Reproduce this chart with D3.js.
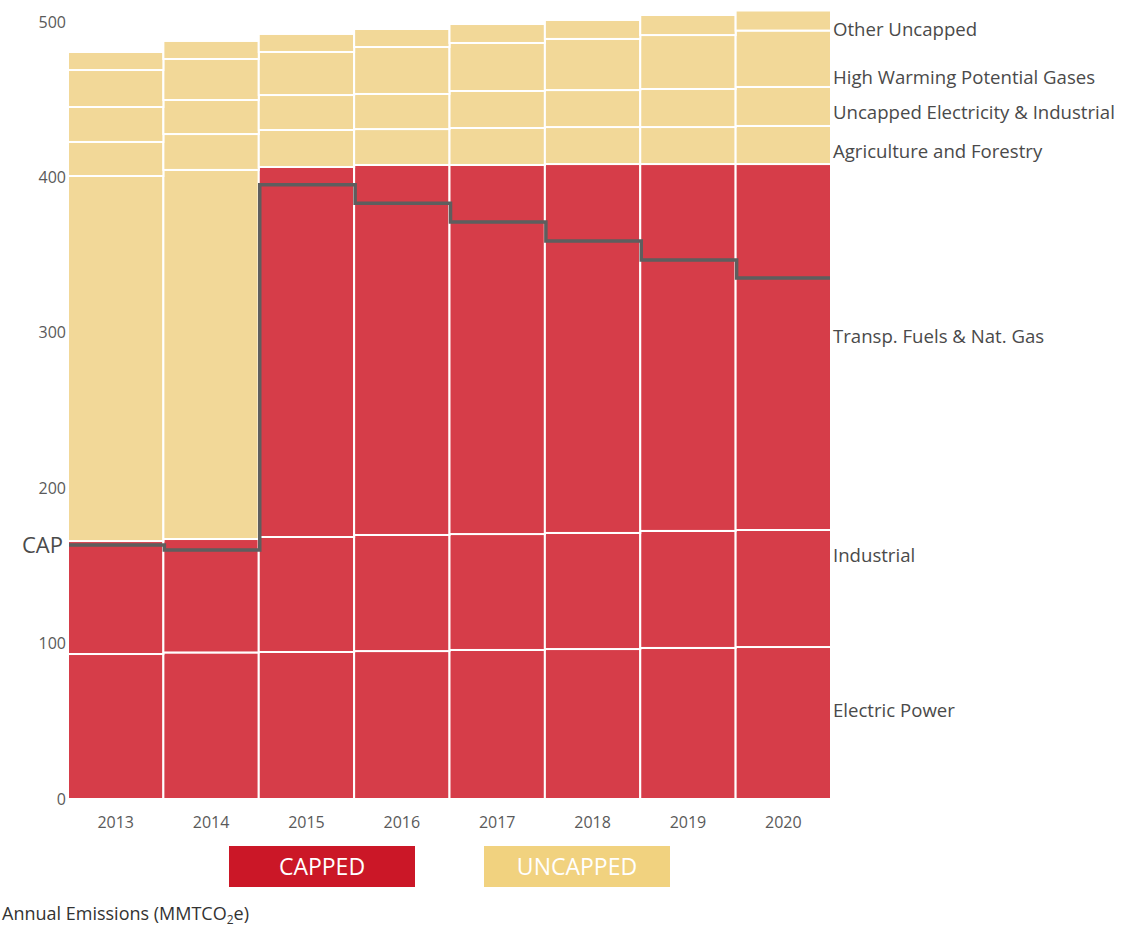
<!DOCTYPE html>
<html><head><meta charset="utf-8">
<script src="https://cdn.jsdelivr.net/npm/d3@7"></script>
<style>body{margin:0;background:#fff}svg{display:block}</style>
</head><body>
<svg id="chart" width="1138" height="929"></svg>
<script>
const years = ["2013","2014","2015","2016","2017","2018","2019","2020"];
const seriesNames = ["Electric Power","Industrial","Transp. Fuels & Nat. Gas","Agriculture and Forestry","Uncapped Electricity & Industrial","High Warming Potential Gases","Other Uncapped"];
const electricPower = [93.3, 94.3, 94.6, 95.2, 95.9, 96.5, 97.2, 97.8];
const industrial    = [72.7, 73.0, 74.0, 74.7, 74.6, 74.7, 75.3, 75.3];
const transpFuels   = [234.9, 237.5, 238.1, 238.1, 237.5, 237.4, 236.1, 235.5];
const agriculture   = [21.9, 23.1, 23.8, 23.1, 23.8, 23.8, 23.8, 24.5];
const uncappedElec  = [22.5, 21.9, 22.5, 22.6, 23.8, 23.8, 24.5, 25.1];
const hwpGases      = [23.8, 26.4, 27.7, 30.2, 30.9, 32.9, 34.7, 36.3];
const otherUncapped = [11.6, 11.6, 11.6, 11.6, 12.2, 12.2, 12.9, 12.9];
const capValues     = [163.4, 160.2, 395.3, 383.3, 371.3, 359.0, 346.8, 335.3];
const transpCappedFrom = "2015";
const yTicks = [0, 100, 200, 300, 400, 500];
const rightLabels = [
  {name:"Other Uncapped", y:30},
  {name:"High Warming Potential Gases", y:78},
  {name:"Uncapped Electricity & Industrial", y:113},
  {name:"Agriculture and Forestry", y:152},
  {name:"Transp. Fuels & Nat. Gas", y:337},
  {name:"Industrial", y:556},
  {name:"Electric Power", y:711}
];

const RED = "#d63d49", YEL = "#f2d898";
const font = "'Open Sans', Lato, sans-serif";
const svg = d3.select("#chart");

const x = d3.scaleBand().domain(years).range([68, 831]).padding(0);
const y = d3.scaleLinear().domain([0, 500]).range([799, 22]);

const seriesArr = [electricPower, industrial, transpFuels, agriculture, uncappedElec, hwpGases, otherUncapped];
const table = years.map((yr, i) => {
  const o = {year: yr};
  seriesNames.forEach((s, j) => o[s] = seriesArr[j][i]);
  return o;
});
const stacked = d3.stack().keys(seriesNames)(table);

function colorFor(key, yr) {
  if (key === "Electric Power" || key === "Industrial") return RED;
  if (key === "Transp. Fuels & Nat. Gas") return (+yr >= +transpCappedFrom) ? RED : YEL;
  return YEL;
}

const g = svg.append("g");
stacked.forEach(layer => {
  g.selectAll(null).data(layer).enter().append("rect")
    .attr("x", d => x(d.data.year))
    .attr("width", x.bandwidth())
    .attr("y", d => y(d[1]))
    .attr("height", d => y(d[0]) - y(d[1]))
    .attr("fill", d => colorFor(layer.key, d.data.year))
    .attr("stroke", "#fff")
    .attr("stroke-width", 2);
});

// cap step line
const capPts = years.map((yr, i) => [x(yr) + 1, y(capValues[i])]);
capPts.push([x.range()[1] - 1, y(capValues[capValues.length - 1])]);
svg.append("path")
  .attr("d", d3.line().curve(d3.curveStepAfter)(capPts))
  .attr("fill", "none").attr("stroke", "#5e5e5e").attr("stroke-width", 3.5);

svg.append("text").attr("x", 63).attr("y", y(capValues[0]) + 8)
  .attr("text-anchor", "end").attr("font-family", font).attr("font-size", 22)
  .attr("fill", "#4a4a4a").text("CAP");

// y axis labels
const yAxis = d3.axisLeft(y).tickValues(yTicks).tickSize(0).tickPadding(0);
const ya = svg.append("g").attr("transform", "translate(66,0)").call(yAxis);
ya.select(".domain").remove();
ya.selectAll("text").attr("font-family", font).attr("font-size", 16).attr("fill", "#5a5a5a");

// x axis labels
const xAxis = d3.axisBottom(x).tickSize(0).tickPadding(0);
const xa = svg.append("g").attr("transform", "translate(0,817)").call(xAxis);
xa.select(".domain").remove();
xa.selectAll("text").attr("font-family", font).attr("font-size", 16).attr("fill", "#5a5a5a");

// right labels
svg.selectAll(".rl").data(rightLabels).enter().append("text")
  .attr("x", 833).attr("y", d => d.y + 6)
  .attr("font-family", font).attr("font-size", 18.6).attr("fill", "#4a4a4a")
  .text(d => d.name);

// legend
const legend = [{t:"CAPPED", c:"#cb1727", x:229}, {t:"UNCAPPED", c:"#f1d27f", x:484}];
legend.forEach(l => {
  svg.append("rect").attr("x", l.x).attr("y", 846).attr("width", 186).attr("height", 41).attr("fill", l.c);
  svg.append("text").attr("x", l.x + 93).attr("y", 875).attr("text-anchor", "middle")
    .attr("font-family", font).attr("font-size", 23).attr("fill", "#fff").text(l.t);
});

// bottom caption
const cap = svg.append("text").attr("x", 2).attr("y", 920)
  .attr("font-family", font).attr("font-size", 18).attr("fill", "#333");
cap.append("tspan").text("Annual Emissions (MMTCO");
cap.append("tspan").attr("font-size", 12).attr("dy", 4).text("2");
cap.append("tspan").attr("dy", -4).text("e)");
</script>
</body></html>
